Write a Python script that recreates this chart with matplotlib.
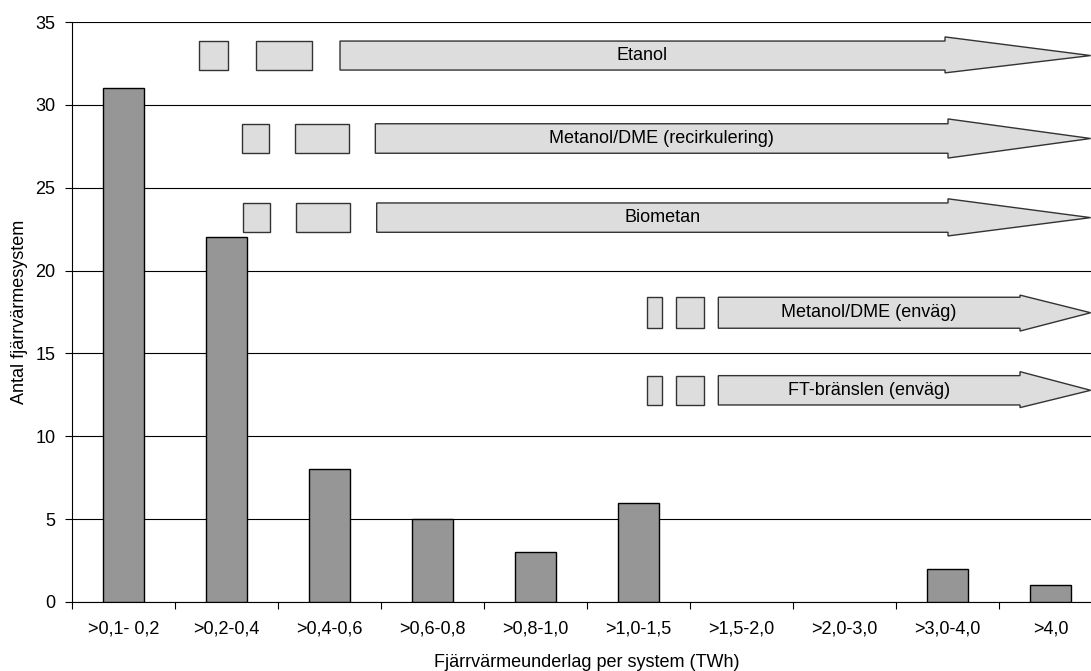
import matplotlib
matplotlib.use("Agg")
import matplotlib.pyplot as plt
from matplotlib.patches import Polygon, Rectangle
import numpy as np

plt.rcParams['font.family'] = ['Liberation Sans', 'DejaVu Sans']

categories = [">0,1- 0,2", ">0,2-0,4", ">0,4-0,6", ">0,6-0,8", ">0,8-1,0",
              ">1,0-1,5", ">1,5-2,0", ">2,0-3,0", ">3,0-4,0", ">4,0"]
counts = [31, 22, 8, 5, 3, 6, 0, 0, 2, 1]

arrow_labels = ["Etanol", "Metanol/DME (recirkulering)", "Biometan",
                "Metanol/DME (enväg)", "FT-bränslen (enväg)"]

# layout of the technology arrows in data units:
# (box1 x0, box1 x1, box2 x0, box2 x1, arrow x0, head x0, tip x, body y0, body y1, head y0, head y1)
arrow_layout = [
    (0.736, 1.018, 1.284, 1.830, 2.102, 7.976, 9.39, 32.10, 33.85, 31.93, 34.10),
    (1.153, 1.416, 1.668, 2.192, 2.445, 8.005, 9.39, 27.08, 28.86, 26.79, 29.15),
    (1.160, 1.422, 1.678, 2.202, 2.458, 8.005, 9.39, 22.31, 24.08, 22.09, 24.33),
    (5.085, 5.231, 5.364, 5.636, 5.775, 8.704, 9.39, 16.52, 18.39, 16.35, 18.52),
    (5.085, 5.231, 5.364, 5.636, 5.775, 8.704, 9.39, 11.89, 13.66, 11.73, 13.90),
]

FS = 13

fig = plt.figure(figsize=(10.91, 6.71), dpi=100)
ax = fig.add_axes([72/1091, 69/671, (1102-72)/1091, (602-22)/671])

x = np.arange(len(categories))
bars = ax.bar(x, counts, width=0.4, color='#969696', edgecolor='black', linewidth=1, zorder=3)
for b, v in zip(bars, counts):
    if v == 0:
        b.set_visible(False)

ax.set_xlim(-0.5, len(categories) - 0.5)
ax.set_ylim(0, 35)
ax.set_yticks(np.arange(0, 36, 5))
ax.yaxis.grid(True, color='black', linewidth=0.8, zorder=0)
ax.set_axisbelow(True)

ax.set_xticks(np.arange(-0.5, len(categories), 1))
ax.set_xticklabels([])
ax.set_xticks(x, minor=True)
ax.set_xticklabels(categories, minor=True)
ax.tick_params(axis='x', which='major', length=5, width=0.8, direction='out')
ax.tick_params(axis='x', which='minor', length=0, pad=13.5, labelsize=FS)
ax.tick_params(axis='y', length=5, width=0.8, labelsize=FS, pad=7)

for s in ['top', 'right']:
    ax.spines[s].set_visible(False)
ax.spines['left'].set_linewidth(0.8)
ax.spines['bottom'].set_linewidth(0.8)

ax.set_xlabel("Fjärrvärmeunderlag per system (TWh)", fontsize=FS, labelpad=12)
ax.set_ylabel("Antal fjärrvärmesystem", fontsize=FS, labelpad=5)

fc = '#dddddd'
ec = '#333333'
for label, (b1a, b1b, b2a, b2b, ax0, hx, tx, y0, y1, hy0, hy1) in zip(arrow_labels, arrow_layout):
    for a, b in [(b1a, b1b), (b2a, b2b)]:
        ax.add_patch(Rectangle((a, y0), b - a, y1 - y0, facecolor=fc, edgecolor=ec,
                               linewidth=1, zorder=4, clip_on=False))
    ym = (y0 + y1) / 2
    pts = [(ax0, y0), (hx, y0), (hx, hy0), (tx, ym), (hx, hy1), (hx, y1), (ax0, y1)]
    ax.add_patch(Polygon(pts, closed=True, facecolor=fc, edgecolor=ec, linewidth=1,
                         zorder=4, clip_on=False))
    ax.text((ax0 + hx) / 2, ym, label, ha='center', va='center', fontsize=FS, zorder=5)

fig.savefig("out.png", dpi=100)
